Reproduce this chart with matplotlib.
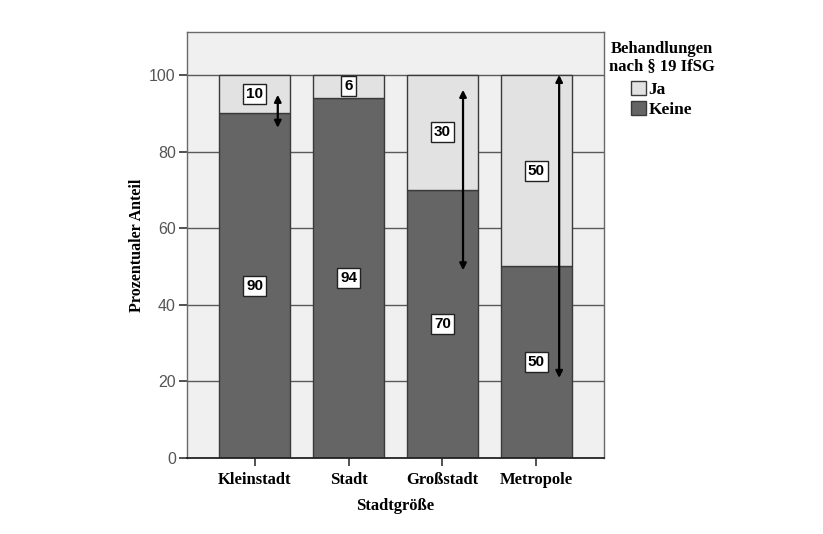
import matplotlib.pyplot as plt
import numpy as np

# data (percent per city size)
categories = ['Kleinstadt', 'Stadt', 'Großstadt', 'Metropole']
keine = [90, 94, 70, 50]
ja = [10, 6, 30, 50]

# arrows drawn on the chart: (category index, offset, from value, to value)
arrow_cat = [0, 2, 3]
arrow_offset = [0.245, 0.22, 0.245]
arrow_from = [86.2, 49.0, 20.9]
arrow_to = [94.8, 96.1, 100.0]

serif = 'Liberation Serif'
sans = 'Liberation Sans'

fig = plt.figure(figsize=(8.23, 5.34), dpi=100)
ax = fig.add_axes([0.2272, 0.1423, 0.5067, 0.7978])
ax.set_facecolor('#f0f0f0')

x = np.arange(len(categories))
width = 0.755

# gridlines behind the bars
for v in [20, 40, 60, 80, 100]:
    ax.axhline(v, color='#5a5a5a', lw=1.0, zorder=1)

ax.bar(x, keine, width, color='#656565', edgecolor='#3a3a3a', lw=1.0, zorder=2, label='Keine')
ax.bar(x, ja, width, bottom=keine, color='#e2e2e2', edgecolor='#3a3a3a', lw=1.0, zorder=2, label='Ja')

# value boxes at segment midpoints
box = dict(boxstyle='square,pad=0.2', fc='white', ec='#222222', lw=1.0)
for i in range(len(categories)):
    ax.text(x[i], keine[i] / 2, str(keine[i]), ha='center', va='center',
            fontsize=11, fontweight='bold', family=sans, bbox=box, zorder=5)
    ax.text(x[i], keine[i] + ja[i] / 2, str(ja[i]), ha='center', va='center',
            fontsize=11, fontweight='bold', family=sans, bbox=box, zorder=5)

for c, off, y0, y1 in zip(arrow_cat, arrow_offset, arrow_from, arrow_to):
    ax.annotate('', xy=(x[c] + off, y1), xytext=(x[c] + off, y0),
                arrowprops=dict(arrowstyle='<|-|>', lw=1.6, color='black',
                                mutation_scale=10, shrinkA=0, shrinkB=0),
                zorder=6)

ax.set_xlim(-0.723, 3.723)
ax.set_ylim(0, 111.2)
ax.set_yticks([0, 20, 40, 60, 80, 100])
ax.set_xticks(x)
ax.set_xticklabels(categories, fontsize=12, fontweight='bold', family=serif)
ax.tick_params(axis='y', length=6, width=1.2, color='#333333', labelsize=11.5,
               labelcolor='#555555', pad=2)
ax.tick_params(axis='x', length=6, width=1.2, color='#333333', pad=4)
for lab in ax.get_yticklabels():
    lab.set_family(sans)

for s in ax.spines.values():
    s.set_color('#6a6a6a')
    s.set_linewidth(1.0)
ax.spines['bottom'].set_color('#222222')
ax.spines['bottom'].set_linewidth(1.3)

ax.set_ylabel('Prozentualer Anteil', fontsize=11.5, fontweight='bold', family=serif, labelpad=3)
ax.set_xlabel('Stadtgröße', fontsize=12, fontweight='bold', family=serif, labelpad=7)

# legend title and entries placed separately
fig.text(662 / 823, 1 - 41 / 534, 'Behandlungen\nnach § 19 IfSG', ha='center', va='top',
         multialignment='center', fontsize=12, fontweight='bold', family=serif,
         linespacing=1.05)
handles, labels = ax.get_legend_handles_labels()
fig.legend(handles[::-1], labels[::-1], loc='upper left',
           bbox_to_anchor=(631 / 823, 1 - 81 / 534),
           frameon=False, prop={'family': serif, 'weight': 'bold', 'size': 12.5},
           handlelength=0.85, handleheight=0.9, handletextpad=0.15,
           labelspacing=0.15, borderaxespad=0, borderpad=0)

fig.savefig('out.png', dpi=100)
